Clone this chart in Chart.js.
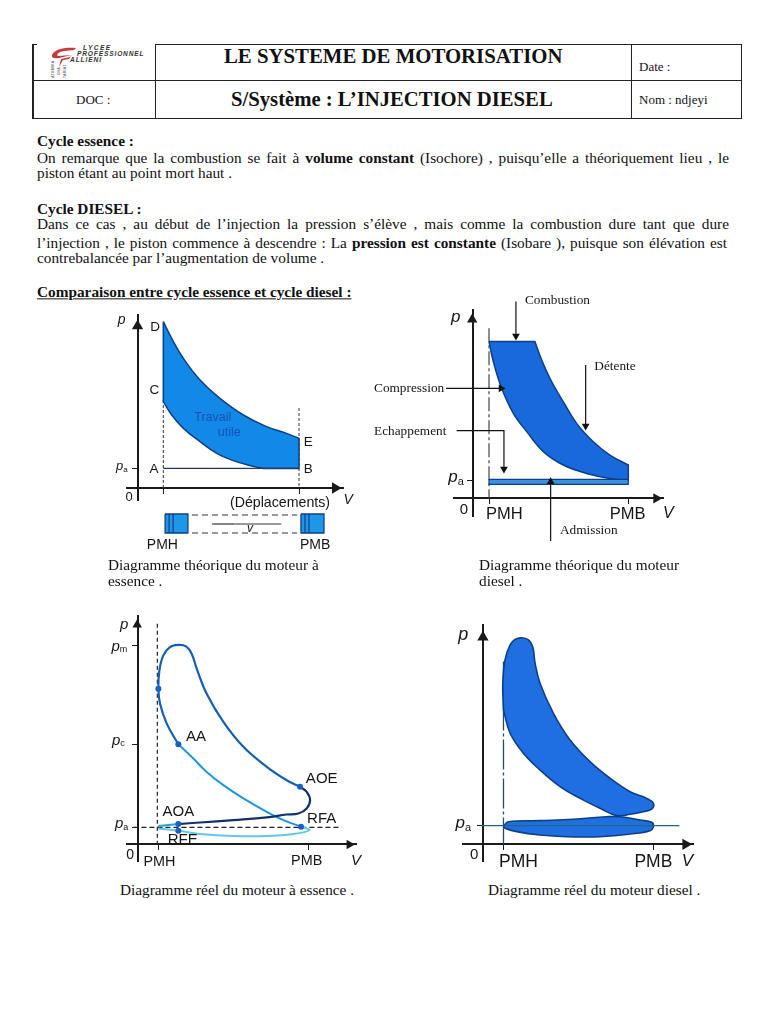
<!DOCTYPE html>
<html lang="fr">
<head>
<meta charset="utf-8">
<title>Le système de motorisation</title>
<script src="https://cdn.jsdelivr.net/npm/chart.js@4"></script>
<style>
html,body{margin:0;padding:0;background:#fff;}
body{position:relative;width:768px;height:1024px;overflow:hidden;font-family:"Liberation Serif",serif;color:#111;}
.t{position:absolute;white-space:nowrap;transform:translateY(-50%);font-size:15.3px;line-height:1;}
.j{white-space:normal;width:692px;text-align:justify;text-align-last:justify;}
.b{position:absolute;background:#222;}
canvas{position:absolute;}
.logo{position:absolute;font-family:"Liberation Sans",sans-serif;font-weight:bold;font-style:italic;font-size:6.6px;letter-spacing:.9px;white-space:nowrap;color:#333;line-height:1;}
</style>
</head>
<body>
<!-- header frame -->
<div class="b" style="left:32px;top:44px;width:2px;height:75px"></div>
<div class="b" style="left:32px;top:44px;width:5px;height:1px"></div>
<div class="b" style="left:155px;top:44px;width:587px;height:1px"></div>
<div class="b" style="left:32px;top:80px;width:710px;height:1px"></div>
<div class="b" style="left:32px;top:118px;width:710px;height:1px"></div>
<div class="b" style="left:155px;top:44px;width:1px;height:75px"></div>
<div class="b" style="left:631px;top:44px;width:1px;height:75px"></div>
<div class="b" style="left:741px;top:44px;width:1px;height:75px"></div>
<svg style="position:absolute;left:50px;top:46px" width="28" height="24" viewBox="0 0 28 24"><path d="M26 2 C14 1 5 3 2 9 C1 13 6 13 13 11 L22 9 L20 11 L11 13 L9 21 L13 14 L19 13 L22 9 L8 10 C6 9 8 6 14 5 L24 4 Z" fill="#c8383f"/></svg>
<div class="logo" style="left:83px;top:45px;letter-spacing:1.4px">LYCEE</div>
<div class="logo" style="left:77px;top:51px;letter-spacing:.85px">PROFESSIONNEL</div>
<div class="logo" style="left:70px;top:57px">ALLIENI</div>
<div class="logo" style="left:52px;top:78px;transform:rotate(-90deg);transform-origin:left top;font-size:3.5px;font-style:normal;letter-spacing:.2px;color:#777">ATOMIKA</div>
<div class="logo" style="left:58px;top:75px;transform:rotate(-90deg);transform-origin:left top;font-size:3.5px;font-style:normal;letter-spacing:.2px;color:#777">OVA</div>
<div class="logo" style="left:64px;top:78px;transform:rotate(-90deg);transform-origin:left top;font-size:3.5px;font-style:normal;letter-spacing:.2px;color:#777">TARIAT</div>

<div class="t" style="left:224px;top:56px;font-size:20.8px;font-weight:bold">LE SYSTEME DE MOTORISATION</div>
<div class="t" style="left:231px;top:99px;font-size:20.7px;font-weight:bold">S/Système : L’INJECTION DIESEL</div>
<div class="t" style="left:76px;top:99px;font-size:13px">DOC :</div>
<div class="t" style="left:639px;top:66px;font-size:13px">Date :</div>
<div class="t" style="left:639px;top:99px;font-size:13px">Nom : ndjeyi</div>

<!-- body text -->
<div class="t" style="left:37px;top:141px"><b>Cycle essence :</b></div>
<div class="t j" style="left:37px;top:158px">On remarque que la combustion se fait à <b>volume constant</b> (Isochore) , puisqu’elle a théoriquement lieu , le</div>
<div class="t" style="left:37px;top:173px">piston étant au point mort haut .</div>
<div class="t" style="left:37px;top:209px"><b>Cycle DIESEL :</b></div>
<div class="t j" style="left:37px;top:224px">Dans ce cas , au début de l’injection la pression s’élève , mais comme la combustion dure tant que dure</div>
<div class="t j" style="left:37px;top:243px;width:690px">l’injection , le piston commence à descendre : La <b>pression est constante</b> (Isobare ), puisque son élévation est</div>
<div class="t" style="left:37px;top:258px">contrebalancée par l’augmentation de volume .</div>
<div class="t" style="left:37px;top:292px"><b><u>Comparaison entre cycle essence et cycle diesel :</u></b></div>

<canvas id="c1" width="260" height="260" style="left:100px;top:305px"></canvas>
<canvas id="c2" width="330" height="260" style="left:360px;top:285px"></canvas>
<canvas id="c3" width="270" height="270" style="left:100px;top:610px"></canvas>
<canvas id="c4" width="270" height="270" style="left:440px;top:610px"></canvas>

<!-- captions -->
<div class="t" style="left:108px;top:565px">Diagramme théorique du moteur à</div>
<div class="t" style="left:108px;top:581px">essence .</div>
<div class="t" style="left:479px;top:565px">Diagramme théorique du moteur</div>
<div class="t" style="left:479px;top:581px">diesel .</div>
<div class="t" style="left:120px;top:890px">Diagramme réel du moteur à essence .</div>
<div class="t" style="left:488px;top:890px">Diagramme réel du moteur diesel .</div>

<script>
// ---- Data: V in % of the PMB position from the origin, p in units of pa ----
const c1Pmh = 15.7, c1Pmb = 100, c1Pa = 1;
const c1Detente = [[15.7,8.32],[20.9,7.48],[28.2,6.48],[38.5,5.4],[50.9,4.48],[65.4,3.65],[79.9,3.07],[92.3,2.73],[100,2.48]];
const c1Compression = [[15.7,4.32],[20.9,3.65],[28.2,2.98],[38.5,2.32],[48.9,1.73],[59.2,1.37],[69.6,1.12],[77.8,0.98]];
const c1Admission = [[15.7,0.98],[100,0.98]];

const c2Pmh = 10.5, c2Pmb = 100, c2Pa = 1;
const c2Combustion = [[10.5,8.55],[40,8.55]];
const c2Detente = [[40,8.55],[44.3,7.55],[50.7,6.36],[58.2,5.27],[66.8,4.09],[77.5,3.09],[88.2,2.36],[100,1.82]];
const c2Compression = [[10.5,8.55],[13.3,7.45],[18.6,6.0],[26.1,4.64],[34.7,3.64],[45.4,2.55],[58.2,1.82],[73.2,1.36],[90.3,1.05],[100,1.0]];
const c2Strip = [[10.5,1.04],[100,1.04],[100,0.76],[10.5,0.76],[10.5,1.04]];

const c3Pmh = 12.1, c3Pmb = 100, c3Pa = 1, c3Pc = 5.9, c3Pm = 11.73;
const c3Combustion = [[23.8,5.9],[17,7.12],[13.1,8.29],[12.1,9.18],[12.7,10.25],[15,11.14],[18.9,11.63],[23.8,11.76],[28.3,11.67],[31.6,11.24],[34.6,10.35],[40.4,8.88],[50.2,7.22],[61.9,5.75],[75.6,4.57],[87.3,3.78],[95.1,3.39]];
const c3Echappement = [[95.1,3.39],[99,3.1],[101,2.61],[99,2.12],[94.1,1.82],[87.3,1.76],[75.6,1.59],[56.1,1.43],[36.5,1.29],[23.8,1.2]];
const c3Croisement = [[23.8,1.2],[12.1,1.08]];
const c3Admission = [[12.1,0.94],[23.8,0.8],[36.5,0.61],[56.1,0.49],[75.6,0.49],[91.2,0.61],[100.6,0.84],[95.7,1.04]];
const c3Compression = [[95.7,1.04],[85.4,1.43],[75.6,1.92],[61.9,2.71],[50.2,3.49],[40.4,4.27],[32.6,5.06],[23.8,5.9]];
const c3Points = [[23.8,5.9],[95.1,3.39],[95.7,1.04],[23.8,1.2],[23.8,0.8],[12.1,9.18]];

const c4Pmh = 11.8, c4Pmb = 100, c4Pa = 1;
const c4Travail = [[11.8,7.2],[11.4,8.63],[12.7,9.88],[15.7,10.68],[18.6,10.98],[22.5,11.07],[26.5,10.95],[29,10.59],[30.4,9.7],[33.3,8.63],[41.2,7.02],[51,5.59],[62.7,4.43],[74.5,3.54],[86.3,2.82],[96.1,2.46],[100,2.2],[99,1.89],[94.1,1.75],[86.3,1.61],[78.4,1.54],[68.6,1.93],[56.9,2.46],[45.1,3.09],[33.3,3.98],[23.5,4.88],[15.7,5.95],[11.8,7.2]];
const c4Pompage = [[11.8,0.98],[14.7,1.21],[33.3,1.27],[52.9,1.34],[72.5,1.48],[80.4,1.48],[92.2,1.3],[99,1.18],[100,0.95],[98,0.73],[86.3,0.55],[68.6,0.41],[49,0.41],[33.3,0.5],[19.6,0.68],[12.7,0.86],[11.8,0.98]];

// ---- Helpers ----
const pts = a => a.map(([x, y]) => ({x, y}));
const DARK = '#0d3f86', AXIS = '#1a1a1a';
const SANS = '"Liberation Sans",Arial,sans-serif', SERIF = '"Liberation Serif",serif';

function line(a, o = {}) {
  return {data: pts(a), showLine: true, clip: false, pointRadius: 0, borderColor: o.color || DARK,
    borderWidth: o.width ?? 1.5, borderDash: o.dash || [], fill: o.fill ? 'shape' : false,
    backgroundColor: o.fill || 'transparent', tension: o.tension ?? 0, ...(o.extra || {})};
}
function arrow(a, color = '#111', r = 4.5) {
  const n = a.length, [x0, y0] = a[n - 2], [x1, y1] = a[n - 1];
  const rot = x1 > x0 ? 90 : x1 < x0 ? 270 : y1 > y0 ? 0 : 180;
  return line(a, {color, width: 1.2, extra: {
    pointStyle: 'triangle', pointRotation: rot, pointBorderWidth: 0,
    pointBackgroundColor: color, pointBorderColor: color,
    pointRadius: a.map((_, i) => i === n - 1 ? r : 0)}});
}
function head(x, y, rot, r) {
  return {data: [{x, y}], clip: false, showLine: false, pointStyle: 'triangle', pointRotation: rot,
    pointRadius: r, pointBackgroundColor: AXIS, pointBorderColor: AXIS, pointBorderWidth: 0};
}
function dots(a, color, r) {
  return {data: pts(a), clip: false, showLine: false, pointStyle: 'circle', pointRadius: r,
    pointBackgroundColor: color, pointBorderColor: color, pointBorderWidth: 0};
}

const textPlugin = {
  id: 'txt',
  afterDatasetsDraw(chart, _a, opts) {
    const {ctx, scales: {x, y}} = chart;
    ctx.save();
    ctx.textBaseline = 'middle';
    for (const l of opts.items || []) {
      const px = x.getPixelForValue(l.v), py = y.getPixelForValue(l.p);
      ctx.fillStyle = l.color || '#151515';
      ctx.font = l.font;
      const w = ctx.measureText(l.t).width;
      if (l.sub) {
        const bf = l.font, sf = `${l.subSize || 10}px ${SANS}`;
        ctx.font = sf; const sw = ctx.measureText(l.sub).width;
        const sx = px - (w + sw) / 2;
        ctx.textAlign = 'left';
        ctx.font = bf; ctx.fillText(l.t, sx, py);
        ctx.font = sf; ctx.fillText(l.sub, sx + w, py + (l.subDy ?? 4));
      } else {
        ctx.textAlign = l.align || 'center';
        ctx.fillText(l.t, px, py);
      }
    }
    ctx.restore();
  }
};

function make(id, box, area, xr, yr, xTicks, yTicks, bottomToTop, items, axisW = 2) {
  const ax = (t, extra) => ({type: 'linear', display: true, ...extra,
    afterBuildTicks: s => { s.ticks = t.map(value => ({value})); },
    ticks: {display: false, autoSkip: false},
    grid: {drawOnChartArea: false, drawTicks: true, tickLength: 5, color: AXIS},
    border: {display: true, color: AXIS, width: axisW}});
  return new Chart(document.getElementById(id), {
    type: 'scatter',
    data: {datasets: bottomToTop.slice().reverse()},
    options: {
      responsive: false, animation: false, events: [],
      layout: {padding: {left: area[0] - box[0], right: box[0] + box[2] - area[1], top: area[2] - box[1], bottom: box[1] + box[3] - area[3]}},
      plugins: {legend: {display: false}, tooltip: {enabled: false}, txt: {items}},
      elements: {line: {capBezierPoints: false}},
      scales: {
        x: ax(xTicks, {min: xr[0], max: xr[1], position: {y: 0}}),
        y: ax(yTicks, {min: yr[0], max: yr[1], position: {x: 0}})
      }
    },
    plugins: [textPlugin]
  });
}
const corner = a => [a[0], ...a, a[a.length - 1]];
const rev = a => a.slice().reverse();
const f = (s, fam = SANS, it = '') => `${it} ${s}px ${fam}`.trim();

// ---- Chart 1 : diagramme théorique essence ----
const BLUE1 = '#1289e6';
const c1Outline = [...corner(c1Detente), [100, 0.98], [100, 0.98], [77.8, 0.98], [77.8, 0.98], ...rev(c1Compression), [15.7, 4.32], [15.7, 8.32], [15.7, 8.32]];
const c1PistonBodyL = [[16.8,-1.78],[31,-1.78]];
const c1PistonBodyR = [[101.2,-1.78],[115.5,-1.78]];
const c1PistonL = [[16.8,-1.3],[31,-1.3],[31,-2.25],[16.8,-2.25],[16.8,-1.3]];
const c1PistonR = [[101.2,-1.3],[115.5,-1.3],[115.5,-2.25],[101.2,-2.25],[101.2,-1.3]];
make('c1', [100,305,260,260], [126.7,343.3,315,500], [-7.04,127.5], [-0.6,8.65], [c1Pmh,c1Pmb], [c1Pa], [
  line([[c1Pmh,4.4],[c1Pmh,0]], {color:'#333', width:1, dash:[3,2]}),
  line([[c1Pmb,4.0],[c1Pmb,0]], {color:'#333', width:1, dash:[3,2]}),
  line(c1Outline, {fill:BLUE1, color:DARK, width:1.5, tension:0.45}),
  line(c1Admission, {color:'#23386a', width:1.2}),
  head(-0.3,8.1,0,6.5), head(122.5,0,90,6.5),
  line(c1PistonBodyL, {color:'#1f97e8', width:19}),
  line(c1PistonBodyR, {color:'#1f97e8', width:19}),
  line(c1PistonL, {color:'#123f86', width:1.3}),
  line(c1PistonR, {color:'#123f86', width:1.3}),
  line([[19.3,-1.3],[19.3,-2.25]], {color:'#123f86', width:1.2}),
  line([[21.8,-1.3],[21.8,-2.25]], {color:'#123f86', width:1.2}),
  line([[103.7,-1.3],[103.7,-2.25]], {color:'#123f86', width:1.2}),
  line([[106.2,-1.3],[106.2,-2.25]], {color:'#123f86', width:1.2}),
  dots([[26,-1.78],[110.5,-1.78]], '#fff', 2),
  line([[33.5,-1.35],[98.8,-1.35]], {color:'#333', width:1, dash:[6,4]}),
  line([[33.5,-2.25],[98.8,-2.25]], {color:'#333', width:1, dash:[6,4]}),
  arrow([[60,-1.8],[46,-1.8]], '#333', 3),
  arrow([[60,-1.8],[89,-1.8]], '#333', 3),
], [
  {t:'p', v:-10.2, p:8.37, font:f(14,SANS,'italic')},
  {t:'D', v:10.6, p:8.03, font:f(13.5)}, {t:'C', v:10.1, p:4.87, font:f(13.5)},
  {t:'E', v:105.8, p:2.27, font:f(13.5)}, {t:'B', v:105.8, p:0.93, font:f(13.5)}, {t:'A', v:9.9, p:0.93, font:f(13.5)},
  {t:'p', sub:'a', subSize:8, subDy:3, v:-10.1, p:1.07, font:f(13,SANS,'italic')},
  {t:'0', v:-5.6, p:-0.47, font:f(13)},
  {t:'(Déplacements)', v:88.2, p:-0.73, font:f(14.2)},
  {t:'V', v:130.6, p:-0.6, font:f(14,SANS,'italic')},
  {t:'Travail', v:46.4, p:3.53, font:f(12.5), color:'#1a4fb8'},
  {t:'utile', v:56.7, p:2.78, font:f(12.5), color:'#1a4fb8'},
  {t:'v', v:69.6, p:-2.02, font:f(12,SANS,'italic')},
  {t:'PMH', v:15.1, p:-2.88, font:f(14)}, {t:'PMB', v:110, p:-2.88, font:f(14)}
]);

// ---- Chart 2 : diagramme théorique diesel ----
const BLUE2 = '#1769dc';
const c2Outline = [...corner(c2Combustion), ...corner(c2Detente), [100,1.0], [100,1.0], ...rev(c2Compression), [10.5,8.55]];
make('c2', [360,285,330,260], [454,663.3,310,516.7], [-12,122.5], [-1,10.27], [c2Pmh,c2Pmb], [c2Pa], [
  line([[c2Pmh,9.27],[c2Pmh,0]], {color:'#444', width:1.2, dash:[14,3,3,3]}),
  line(c2Outline, {fill:BLUE2, color:DARK, width:1.5, tension:0.4}),
  line(c2Strip, {fill:'#3d8fe0', color:DARK, width:1.2}),
  head(-0.3,9.75,0,6), head(118,0,90,6),
  arrow([[27.8,10.73],[27.8,8.85]]),
  arrow([[72.6,7.27],[72.6,3.95]]),
  arrow([[-17.1,6],[18.2,6]]),
  arrow([[-10.3,3.69],[20.1,3.69],[20.1,1.6]]),
  arrow([[50.1,-2.33],[50.1,0.9]]),
], [
  {t:'p', v:-10.9, p:9.87, font:f(17,SANS,'italic')},
  {t:'p', sub:'a', subSize:11, subDy:4, v:-10.7, p:1.13, font:f(17,SANS,'italic')},
  {t:'0', v:-5.6, p:-0.64, font:f(15)},
  {t:'PMH', v:20.3, p:-0.87, font:f(16.5)}, {t:'PMB', v:99.6, p:-0.87, font:f(16.5)},
  {t:'V', v:125.7, p:-0.82, font:f(16,SANS,'italic')},
  {t:'Combustion', align:'left', v:33.6, p:10.78, font:f(13.3,SERIF)},
  {t:'Détente', align:'left', v:78.2, p:7.18, font:f(13.3,SERIF)},
  {t:'Compression', align:'left', v:-63.4, p:6, font:f(13.3,SERIF)},
  {t:'Echappement', align:'left', v:-63.4, p:3.64, font:f(13.3,SERIF)},
  {t:'Admission', align:'left', v:56.1, p:-1.78, font:f(13.3,SERIF)}
]);

// ---- Chart 3 : diagramme réel essence ----
make('c3', [100,610,270,270], [126.7,356.7,615,861.7], [-6.45,128.3], [-1.02,13.49], [c3Pmh,c3Pmb], [c3Pa,c3Pc,c3Pm], [
  line([[c3Pmh-0.6,13],[c3Pmh-0.6,0]], {color:'#222', width:1.2, dash:[4,3]}),
  line([[-2.5,c3Pa],[119.5,c3Pa]], {color:'#222', width:1.2, dash:[5,3]}),
  line(c3Admission, {color:'#63c7e8', width:2, tension:0.4}),
  line(c3Croisement, {color:'#2a9ee0', width:2}),
  line(c3Compression, {color:'#1f97dc', width:2, tension:0.4}),
  line(c3Combustion, {color:'#145fb0', width:2.2, tension:0.4}),
  line(c3Echappement, {color:'#10316e', width:2.2, tension:0.4}),
  dots(c3Points, '#1a5fc4', 3),
  head(-0.3,12.95,0,5.5), head(124,0,90,5.5),
], [
  {t:'p', v:-8, p:12.96, font:f(15,SANS,'italic')},
  {t:'p', sub:'m', subSize:9, subDy:3, v:-10.7, p:11.67, font:f(15,SANS,'italic')},
  {t:'p', sub:'c', subSize:9, subDy:3, v:-11.3, p:6.1, font:f(15,SANS,'italic')},
  {t:'p', sub:'a', subSize:9, subDy:3, v:-9.4, p:1.2, font:f(15,SANS,'italic')},
  {t:'AA', v:34.2, p:6.33, font:f(15)}, {t:'AOE', v:107.8, p:3.88, font:f(15)},
  {t:'AOA', v:23.8, p:1.92, font:f(15)}, {t:'RFA', v:107.8, p:1.53, font:f(15)},
  {t:'RFE', v:26.4, p:0.29, font:f(15)},
  {t:'0', v:-4.5, p:-0.63, font:f(14)},
  {t:'PMH', v:12.7, p:-1.02, font:f(14.4)}, {t:'PMB', v:99, p:-0.96, font:f(14.4)},
  {t:'V', v:127.9, p:-0.96, font:f(15,SANS,'italic')}
]);

// ---- Chart 4 : diagramme réel diesel ----
const BLUE4 = '#1f6fe2';
make('c4', [440,610,270,270], [462.7,693.3,625,861.7], [-12.2,123.5], [-0.93,11.75], [c4Pmh,c4Pmb], [c4Pa], [
  line([[c4Pmh,9.79],[c4Pmh,0]], {color:'#2b4a66', width:1.3, dash:[30,3,3,3]}),
  line(c4Travail, {fill:BLUE4, color:DARK, width:1.6, tension:0.4}),
  line(c4Pompage, {fill:BLUE4, color:DARK, width:1.6, tension:0.4}),
  line([[-1,c4Pa],[115.3,c4Pa]], {color:'#1f6a7a', width:1.2}),
  head(-0.3,11.1,0,6.5), head(119,0,90,6.5),
], [
  {t:'p', v:-11.8, p:11.21, font:f(18,SANS,'italic')},
  {t:'p', sub:'a', subSize:11, subDy:5, v:-11.8, p:1.13, font:f(17,SANS,'italic')},
  {t:'0', v:-5.5, p:-0.57, font:f(15)},
  {t:'PMH', v:20.6, p:-0.93, font:f(17.5)}, {t:'PMB', v:100, p:-0.93, font:f(17.5)},
  {t:'V', v:120, p:-0.93, font:f(17,SANS,'italic')}
]);
</script>
</body>
</html>
